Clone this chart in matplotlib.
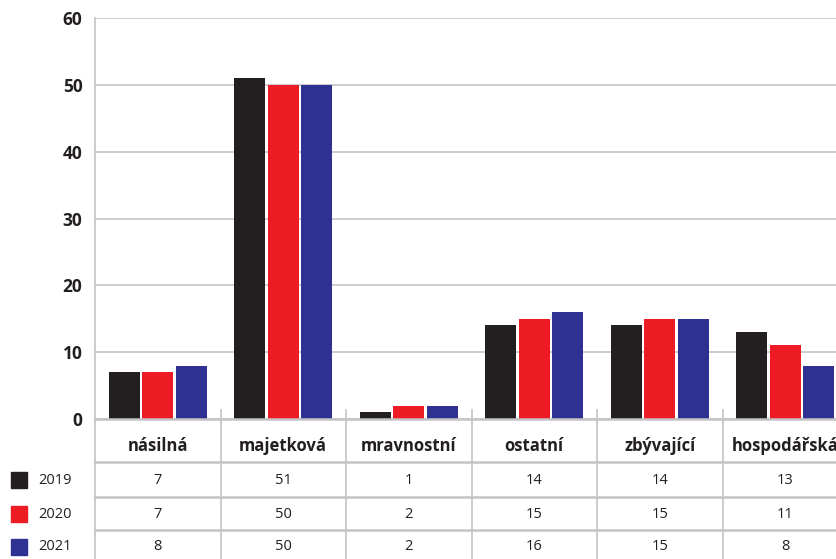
import matplotlib
matplotlib.use("Agg")
import matplotlib.pyplot as plt
from matplotlib.patches import Rectangle
import numpy as np

categories = ["násilná", "majetková", "mravnostní", "ostatní", "zbývající", "hospodářská"]
years = ["2019", "2020", "2021"]
v2019 = [7, 51, 1, 14, 14, 13]
v2020 = [7, 50, 2, 15, 15, 11]
v2021 = [8, 50, 2, 16, 15, 8]
series = [v2019, v2020, v2021]
colors = ["#231f20", "#ed1c24", "#2e3192"]
grid_c = "#c4c4c6"

plt.rcParams["font.family"] = ["Open Sans", "DejaVu Sans"]

W, H = 837, 559
fig = plt.figure(figsize=(W / 100, H / 100), dpi=100)


def fx(x):
    return x / W


def fy(y):
    return 1 - y / H


left, right = 95, 95 + 6 * 125.5
top, zero = 18, 419

ax = fig.add_axes([fx(left), fy(zero), fx(right - left), fy(top) - fy(zero)])
x = np.arange(len(categories))
step, bw = 0.267, 0.247
for i, (vals, c) in enumerate(zip(series, colors)):
    ax.bar(x + (i - 1) * step, vals, width=bw, color=c, zorder=3)

ax.set_xlim(-0.5, len(categories) - 0.5)
ax.set_ylim(0, 60)
ax.set_yticks(range(0, 61, 10))
ax.set_yticklabels([str(t) for t in range(0, 61, 10)], fontsize=12.5,
                   fontweight="bold", color="#231f20")
ax.tick_params(axis="y", length=0, pad=9)
ax.tick_params(axis="x", length=0, labelbottom=False)
ax.yaxis.grid(True, color=grid_c, linewidth=1.2, zorder=0)
for s in ["top", "right", "bottom"]:
    ax.spines[s].set_visible(False)
ax.spines["left"].set_color(grid_c)
ax.spines["left"].set_linewidth(1.2)

# table under the bars
tab_bottom = 600
tb = fig.add_axes([fx(left), fy(tab_bottom), fx(right - left), fy(410) - fy(tab_bottom)])
tb.set_xlim(-0.5, len(categories) - 0.5)
tb.set_ylim(tab_bottom, 410)
tb.axis("off")
tb.set_facecolor("none")
for k in range(len(categories) + 1):
    tb.plot([k - 0.5, k - 0.5], [410 if k else 419, tab_bottom], color=grid_c, lw=1.2,
            clip_on=False)
row_lines = [419, 462, 497, 530]
for yl in row_lines:
    tb.plot([-0.5, len(categories) - 0.5], [yl, yl], color=grid_c, lw=1.8, clip_on=False)

for k, cat in enumerate(categories):
    tb.text(k, 446, cat, ha="center", va="center", fontsize=12,
            fontweight="bold", color="#231f20")
row_mid = [480, 514, 547]
for r, vals in enumerate(series):
    for k, v in enumerate(vals):
        tb.text(k, row_mid[r], str(v), ha="center", va="center", fontsize=10.5,
                color="#231f20")

# legend at left of the table rows
for r, (yr, c) in enumerate(zip(years, colors)):
    yc = row_mid[r]
    fig.patches.append(Rectangle((fx(11), fy(yc + 8)), fx(16), fy(yc - 8) - fy(yc + 8),
                                 transform=fig.transFigure, color=c))
    fig.text(fx(38), fy(yc), yr, ha="left", va="center", fontsize=10.5, color="#231f20")

fig.savefig("out.png", dpi=100)
